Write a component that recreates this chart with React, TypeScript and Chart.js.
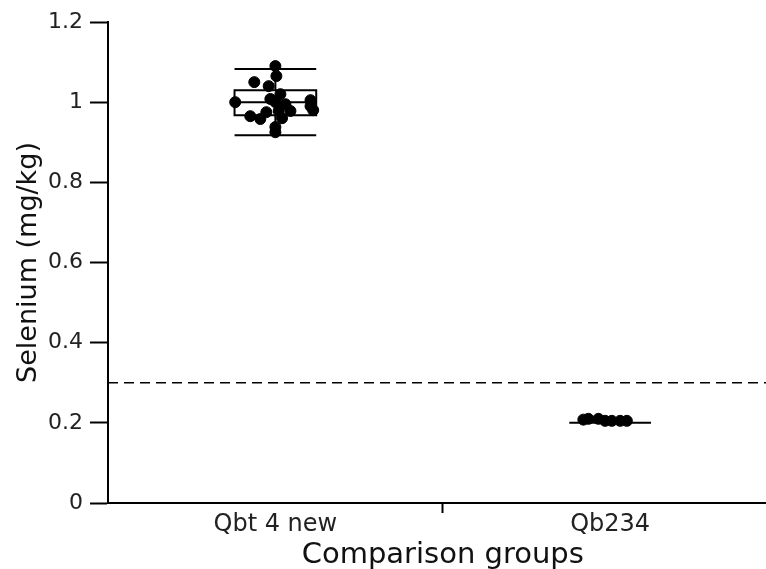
import React, { useEffect, useRef } from "react";
import { Chart, registerables } from "chart.js";

Chart.register(...registerables);

const categories = ["Qbt 4 new", "Qb234"];
const yTickValues = [0, 0.2, 0.4, 0.6, 0.8, 1, 1.2];
const thresholdValue = 0.3;

// Qbt 4 new: measured values and horizontal jitter (category units)
const qbt4Values = [1.0, 1.05, 1.09, 1.065, 1.04, 1.02, 1.008, 0.995, 0.978, 0.958, 0.965, 0.978, 0.938, 0.925, 1.005, 0.99, 0.98, 0.975, 1.0, 0.96];
const qbt4Jitter = [-0.12, -0.063, 0, 0.003, -0.02, 0.015, -0.015, 0.03, 0.01, -0.045, -0.075, 0.045, 0, 0, 0.105, 0.105, 0.113, -0.027, 0.0, 0.02];

// Qb234
const qb234Values = [0.208, 0.21, 0.21, 0.205, 0.205, 0.205, 0.205];
const qb234Jitter = [-0.08, -0.065, -0.035, -0.015, 0.005, 0.03, 0.05];

// box statistics per category
const boxQ1 = [0.9675, 0.2];
const boxMedian = [1.0, 0.2];
const boxQ3 = [1.03, 0.2];
const whiskerLow = [0.9175, 0.2];
const whiskerHigh = [1.0825, 0.2];

const X_MAX = 2;
const BOX_HALF = 0.122;

const boxPlugin = {
  id: "boxPlugin",
  beforeDatasetsDraw(chart: any) {
    const { ctx, scales } = chart;
    const xs = scales.x;
    const ys = scales.y;
    ctx.save();
    ctx.strokeStyle = "#000";
    ctx.lineWidth = 2;
    categories.forEach((_, i) => {
      const cx = i + 0.5;
      const xl = xs.getPixelForValue(cx - BOX_HALF);
      const xr = xs.getPixelForValue(cx + BOX_HALF);
      const xc = xs.getPixelForValue(cx);
      const yq1 = ys.getPixelForValue(boxQ1[i]);
      const yq3 = ys.getPixelForValue(boxQ3[i]);
      const ym = ys.getPixelForValue(boxMedian[i]);
      const ywl = ys.getPixelForValue(whiskerLow[i]);
      const ywh = ys.getPixelForValue(whiskerHigh[i]);
      ctx.beginPath();
      ctx.rect(xl, yq3, xr - xl, yq1 - yq3);
      ctx.moveTo(xl, ym);
      ctx.lineTo(xr, ym);
      ctx.moveTo(xl, ywl);
      ctx.lineTo(xr, ywl);
      ctx.moveTo(xl, ywh);
      ctx.lineTo(xr, ywh);
      ctx.moveTo(xc, yq3);
      ctx.lineTo(xc, ywh);
      ctx.moveTo(xc, yq1);
      ctx.lineTo(xc, ywl);
      ctx.stroke();
    });
    ctx.restore();
  },
};

export default function App() {
  const ref = useRef<HTMLCanvasElement | null>(null);
  useEffect(() => {
    document.body.style.margin = "0";
    const font = "'DejaVu Sans', sans-serif";
    const chart = new Chart(ref.current!, {
      type: "scatter",
      data: {
        datasets: [
          {
            type: "line",
            data: [
              { x: 0, y: thresholdValue },
              { x: X_MAX, y: thresholdValue },
            ],
            borderColor: "#000",
            borderWidth: 1.5,
            borderDash: [10, 6],
            pointRadius: 0,
            fill: false,
          } as any,
          {
            data: qbt4Values.map((v, i) => ({ x: 0.5 + qbt4Jitter[i], y: v })),
            backgroundColor: "#000",
            borderColor: "#000",
            pointRadius: 5.5,
          },
          {
            data: qb234Values.map((v, i) => ({ x: 1.5 + qb234Jitter[i], y: v })),
            backgroundColor: "#000",
            borderColor: "#000",
            pointRadius: 5.5,
          },
        ],
      },
      options: {
        animation: false,
        responsive: false,
        maintainAspectRatio: false,
        layout: { padding: { top: 22, right: 0, bottom: 0, left: 0 } },
        plugins: { legend: { display: false }, tooltip: { enabled: false } },
        scales: {
          x: {
            type: "linear",
            min: 0,
            max: X_MAX,
            afterBuildTicks: (s: any) => {
              s.ticks = [{ value: 0.5 }, { value: 1 }, { value: 1.5 }, { value: X_MAX }];
            },
            afterFit: (s: any) => {
              s.height = 66;
            },
            ticks: {
              autoSkip: false,
              maxRotation: 0,
              color: "#222",
              font: { family: font, size: 24 },
              padding: -3,
              callback: (v: any) => (v === 0.5 ? categories[0] : v === 1.5 ? categories[1] : ""),
            },
            grid: {
              drawOnChartArea: false,
              tickLength: 10,
              tickWidth: 2,
              tickColor: (c: any) => (c.tick && c.tick.value === 1 ? "#000" : "rgba(0,0,0,0)"),
            },
            border: { color: "#000", width: 2 },
            title: {
              display: true,
              text: "Comparison groups",
              color: "#111",
              font: { family: font, size: 29 },
              padding: { top: 0, bottom: -4 },
            },
          },
          y: {
            type: "linear",
            min: 0,
            max: 1.2,
            afterBuildTicks: (s: any) => {
              s.ticks = yTickValues.map((v) => ({ value: v }));
            },
            afterFit: (s: any) => {
              s.width = 108;
            },
            ticks: {
              color: "#222",
              font: { family: font, size: 22 },
              padding: 7,
              callback: (v: any) => (v === 0 || v === 1 ? String(v) : Number(v).toFixed(1)),
            },
            grid: {
              drawOnChartArea: false,
              tickLength: 18,
              tickWidth: 2,
              tickColor: "#000",
            },
            border: { color: "#000", width: 2 },
            title: {
              display: true,
              text: "Selenium (mg/kg)",
              color: "#111",
              font: { family: font, size: 27 },
              padding: { top: 13, bottom: 0 },
            },
          },
        },
      },
      plugins: [boxPlugin],
    } as any);
    return () => chart.destroy();
  }, []);
  return (
    <div style={{ position: "absolute", left: 0, top: 0, width: 766, height: 569, overflow: "hidden" }}>
      <canvas ref={ref} width={784} height={569} style={{ display: "block" }} />
    </div>
  );
}
